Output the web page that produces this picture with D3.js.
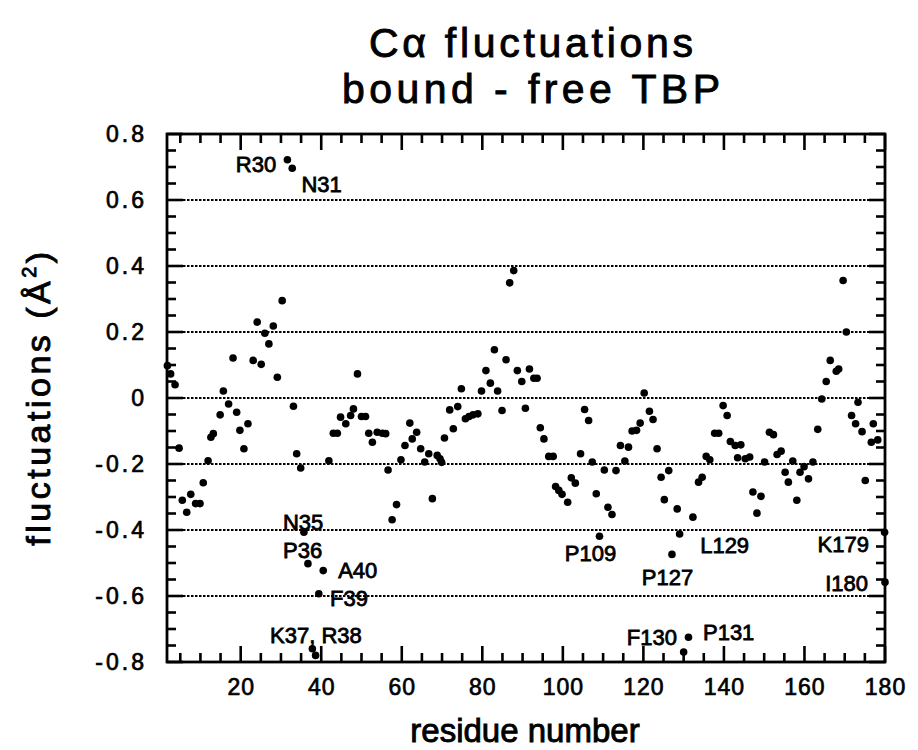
<!DOCTYPE html>
<html>
<head>
<meta charset="utf-8">
<script src="https://cdn.jsdelivr.net/npm/d3@7"></script>
<style>
  html, body { margin: 0; padding: 0; background: #fff; }
  svg { display: block; }
  text { font-family: "Liberation Sans", Arial, Helvetica, sans-serif; fill: #000; }
</style>
</head>
<body>
<svg id="chart" width="918" height="750"></svg>
<script>
// ---------------- data ----------------
const titleLines = ["C\u03B1 fluctuations", "bound - free TBP"];
const xAxisTitle = "residue number";

// residue position of each dot
const residues = [
  1.8, 2.6, 3.7, 4.7, 5.5, 6.6, 7.6, 8.8, 9.9, 10.7,
  11.9, 12.6, 13.2, 14.9, 15.7, 17.0, 18.1, 19.0, 19.8, 20.8,
  21.8, 23.1, 24.1, 25.1, 26.0, 27.0, 28.1, 29.1, 30.3, 31.6,
  32.8, 33.1, 33.9, 34.9, 35.7, 36.7, 37.8, 38.6, 39.4, 40.5,
  41.9, 43.0, 44.0, 44.8, 46.1, 47.3, 48.0, 49.0, 50.0, 51.0,
  51.8, 52.7, 53.9, 55.2, 56.0, 56.6, 57.6, 58.7, 59.8, 60.8,
  62.0, 62.6, 63.7, 64.7, 65.7, 66.7, 67.6, 68.8, 69.5, 69.9,
  70.6, 71.9, 72.8, 73.9, 74.8, 75.8, 76.7, 77.7, 78.9, 79.8,
  80.9, 82.0, 83.0, 83.8, 84.9, 85.9, 86.8, 87.8, 88.7, 89.8,
  90.7, 91.7, 92.8, 93.6, 94.4, 95.3, 96.5, 97.6, 98.2, 99.0,
  99.8, 101.2, 102.1, 103.1, 104.4, 105.4, 106.4, 107.3, 108.3, 109.1,
  110.3, 111.2, 112.2, 113.2, 114.3, 115.4, 116.3, 117.2, 118.3, 119.2,
  120.2, 121.5, 122.4, 123.4, 124.4, 125.2, 126.3, 127.1, 128.4, 129.0,
  130.0, 131.2, 132.3, 133.7, 134.6, 135.6, 136.5, 137.7, 138.7, 139.8,
  140.8, 141.6, 142.8, 143.4, 144.2, 145.3, 146.4, 147.2, 148.2, 149.2,
  150.1, 151.3, 152.3, 153.2, 154.2, 155.2, 156.0, 157.1, 158.1, 158.9,
  159.9, 161.0, 162.1, 163.3, 164.3, 165.4, 166.4, 167.9, 168.5, 169.6,
  170.4, 171.7, 172.7, 173.3, 174.3, 175.1, 176.6, 177.1, 178.2, 179.9,
  180.0
];

// bound - free C-alpha fluctuation (Å²) of each dot
const fluctuations = [
  0.098, 0.073, 0.040, -0.152, -0.310, -0.346, -0.292, -0.320, -0.320, -0.257,
  -0.190, -0.119, -0.108, -0.051, 0.021, -0.018, 0.121, -0.043, -0.098, -0.154,
  -0.078, 0.114, 0.230, 0.102, 0.196, 0.164, 0.218, 0.063, 0.295, 0.722,
  0.696, -0.025, -0.169, -0.212, -0.407, -0.502, -0.760, -0.780, -0.593, -0.523,
  -0.190, -0.107, -0.107, -0.058, -0.078, -0.053, -0.033, 0.073, -0.056, -0.056,
  -0.107, -0.134, -0.104, -0.107, -0.108, -0.218, -0.369, -0.323, -0.187, -0.144,
  -0.076, -0.124, -0.104, -0.154, -0.194, -0.169, -0.305, -0.174, -0.184, -0.195,
  -0.121, -0.036, -0.093, -0.026, 0.028, -0.063, -0.056, -0.051, -0.048, 0.021,
  0.083, 0.045, 0.146, 0.021, -0.038, 0.116, 0.349, 0.386, 0.083, 0.050,
  -0.031, 0.088, 0.060, 0.060, -0.090, -0.124, -0.177, -0.177, -0.268, -0.280,
  -0.292, -0.316, -0.242, -0.258, -0.169, -0.035, -0.068, -0.194, -0.290, -0.419,
  -0.218, -0.331, -0.353, -0.220, -0.144, -0.191, -0.149, -0.100, -0.098, -0.076,
  0.015, -0.040, -0.065, -0.154, -0.240, -0.308, -0.220, -0.474, -0.336, -0.412,
  -0.770, -0.725, -0.361, -0.255, -0.240, -0.177, -0.187, -0.107, -0.107, -0.023,
  -0.053, -0.132, -0.144, -0.181, -0.142, -0.184, -0.179, -0.285, -0.349, -0.298,
  -0.194, -0.104, -0.111, -0.171, -0.161, -0.225, -0.255, -0.191, -0.310, -0.225,
  -0.208, -0.245, -0.194, -0.095, -0.003, 0.050, 0.114, 0.081, 0.088, 0.356,
  0.200, -0.053, -0.078, -0.013, -0.102, -0.250, -0.134, -0.078, -0.127, -0.407,
  -0.558
];

// axis ticks and their labels
const xTickValues = [20, 40, 60, 80, 100, 120, 140, 160, 180];
const xTickLabels = ["20", "40", "60", "80", "100", "120", "140", "160", "180"];
const yTickValues = [-0.8, -0.6, -0.4, -0.2, 0, 0.2, 0.4, 0.6, 0.8];
const yTickLabels = ["-0.8", "-0.6", "-0.4", "-0.2", "0", "0.2", "0.4", "0.6", "0.8"];
const gridValues = [-0.6, -0.4, -0.2, 0, 0.2, 0.4, 0.6];

// residue annotations: text, anchor position in data space, text anchor
const noteTexts   = ["R30", "N31", "N35", "P36", "A40", "F39", "K37, R38", "P109", "P127", "L129", "K179", "I180", "F130", "P131"];
const noteResidue = [28.8, 35.1, 30.5, 30.5, 44.2, 42.2, 27.3, 100.5, 119.6, 134.1, 176.0, 175.8, 115.9, 134.8];
const noteValue   = [0.685, 0.625, -0.400, -0.485, -0.545, -0.630, -0.742, -0.494, -0.567, -0.470, -0.467, -0.585, -0.748, -0.733];
const noteAnchor  = ["end", "start", "start", "start", "start", "start", "start", "start", "start", "start", "end", "end", "start", "start"];

// ---------------- layout ----------------
const plot = { left: 167, right: 885, top: 134, bottom: 662 };
const svg = d3.select("#chart");
svg.append("rect").attr("width", 918).attr("height", 750).attr("fill", "#fff");

const x = d3.scaleLinear().domain([1.7, 180]).range([plot.left, plot.right]);
const y = d3.scaleLinear().domain([-0.8, 0.8]).range([plot.bottom, plot.top]);

const wide = "'DejaVu Sans', Verdana, sans-serif";

// title
const cx = 531;
[[titleLines[0], 57, 324], [titleLines[1], 103, 378]].forEach(([t, yy, len]) => {
  svg.append("text").attr("x", cx).attr("y", yy).attr("text-anchor", "middle")
    .attr("font-family", wide).attr("font-size", 41)
    .attr("textLength", len).attr("lengthAdjust", "spacing")
    .attr("stroke", "#000").attr("stroke-width", 0.9)
    .text(t);
});

// grid lines
svg.append("g").selectAll("line").data(gridValues).join("line")
  .attr("x1", plot.left).attr("x2", plot.right)
  .attr("y1", d => y(d)).attr("y2", d => y(d))
  .attr("stroke", "#000").attr("stroke-width", 1.8).attr("stroke-dasharray", "2.5,1.5");

// tick marks (major every 20 residues / 0.2, minor every 5 residues / 0.05), pointing inward
const xMinor = d3.range(5, 180, 5).filter(v => v % 20 !== 0);
const yMinor = d3.range(-15, 16).map(k => k * 0.05).filter(v => Math.abs(Math.round(v * 100)) % 20 !== 0);
const majorLen = 16, minorLen = 9;

const xTicks = xTickValues.map(v => ({ v, len: majorLen })).concat(xMinor.map(v => ({ v, len: minorLen })));
const yTicks = yTickValues.map(v => ({ v, len: majorLen })).concat(yMinor.map(v => ({ v, len: minorLen })));

const tickG = svg.append("g").attr("stroke", "#000").attr("stroke-width", 2.6);
tickG.selectAll("line.xb").data(xTicks).join("line").attr("class", "xb")
  .attr("x1", d => x(d.v)).attr("x2", d => x(d.v))
  .attr("y1", plot.bottom).attr("y2", d => plot.bottom - d.len);
tickG.selectAll("line.xt").data(xTicks).join("line").attr("class", "xt")
  .attr("x1", d => x(d.v)).attr("x2", d => x(d.v))
  .attr("y1", plot.top).attr("y2", d => plot.top + d.len);
tickG.selectAll("line.yl").data(yTicks).join("line").attr("class", "yl")
  .attr("y1", d => y(d.v)).attr("y2", d => y(d.v))
  .attr("x1", plot.left).attr("x2", d => plot.left + d.len);
tickG.selectAll("line.yr").data(yTicks).join("line").attr("class", "yr")
  .attr("y1", d => y(d.v)).attr("y2", d => y(d.v))
  .attr("x1", plot.right).attr("x2", d => plot.right - d.len);

// tick labels (bottom and left) via d3 axes
const xLab = svg.append("g").attr("transform", `translate(0,${plot.bottom})`)
  .call(d3.axisBottom(x).tickValues(xTickValues).tickSize(0).tickPadding(17)
    .tickFormat((d, i) => xTickLabels[i]));
xLab.select(".domain").remove();
xLab.selectAll("text").attr("font-size", 23).attr("font-family", wide)
  .attr("letter-spacing", 1).attr("stroke", "#000").attr("stroke-width", 0.7);

const yLab = svg.append("g").attr("transform", `translate(${plot.left},0)`)
  .call(d3.axisLeft(y).tickValues(yTickValues).tickSize(0).tickPadding(20)
    .tickFormat((d, i) => yTickLabels[i]));
yLab.select(".domain").remove();
yLab.selectAll("text").attr("font-size", 23).attr("font-family", wide)
  .attr("letter-spacing", 3).attr("stroke", "#000").attr("stroke-width", 0.7);

// frame
svg.append("rect")
  .attr("x", plot.left).attr("y", plot.top)
  .attr("width", plot.right - plot.left).attr("height", plot.bottom - plot.top)
  .attr("fill", "none").attr("stroke", "#000").attr("stroke-width", 2.8);

// points
const points = residues.map((r, i) => ({ r, v: fluctuations[i] }));
svg.append("g").selectAll("circle").data(points).join("circle")
  .attr("cx", d => x(d.r)).attr("cy", d => y(d.v)).attr("r", 3.8).attr("fill", "#000");

// annotations
svg.append("g").selectAll("text").data(noteTexts).join("text")
  .attr("x", (d, i) => x(noteResidue[i]))
  .attr("y", (d, i) => y(noteValue[i]))
  .attr("text-anchor", (d, i) => noteAnchor[i])
  .attr("font-size", 22).attr("stroke", "#000").attr("stroke-width", 0.8)
  .text(d => d);

// axis titles
svg.append("text").attr("x", 525).attr("y", 742).attr("text-anchor", "middle")
  .attr("font-size", 33).attr("stroke", "#000").attr("stroke-width", 0.9)
  .text(xAxisTitle);

const yt = svg.append("text")
  .attr("transform", "translate(50,397) rotate(-90)")
  .attr("text-anchor", "middle").attr("font-size", 34)
  .attr("letter-spacing", 3.5)
  .attr("stroke", "#000").attr("stroke-width", 0.9);
yt.append("tspan").text("fluctuations (\u00C5");
yt.append("tspan").attr("font-size", 20).attr("dy", -14).text("2");
yt.append("tspan").attr("dy", 14).text(")");
</script>
</body>
</html>
